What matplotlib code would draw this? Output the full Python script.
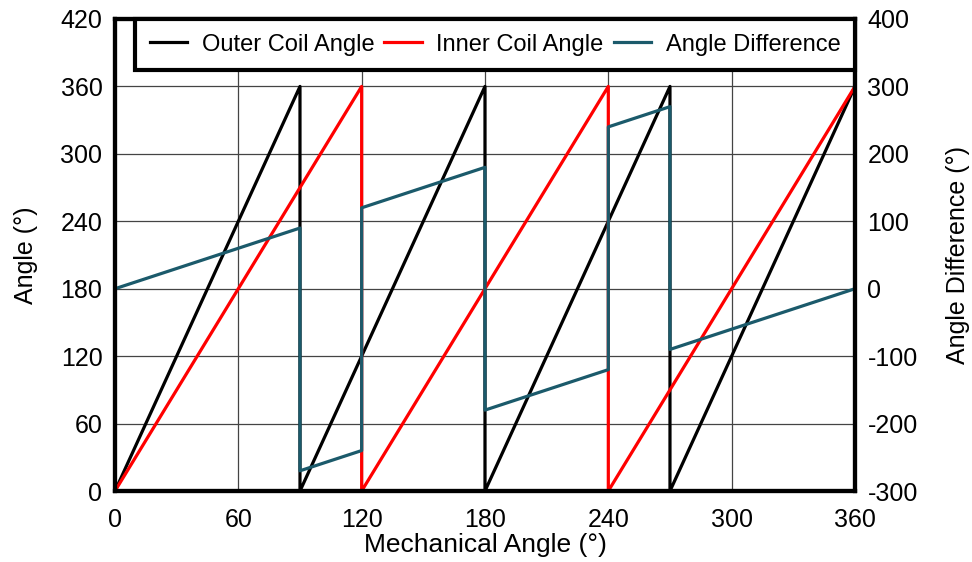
import matplotlib.pyplot as plt
from matplotlib.lines import Line2D

plt.rcParams['font.family'] = ['Liberation Sans', 'DejaVu Sans']
plt.rcParams['axes.unicode_minus'] = False

# breakpoints
outer_x = [0, 90, 90, 180, 180, 270, 270, 360]
outer_y = [0, 360, 0, 360, 0, 360, 0, 360]
inner_x = [0, 120, 120, 240, 240, 360]
inner_y = [0, 360, 0, 360, 0, 360]
diff_x = [0, 90, 90, 120, 120, 180, 180, 240, 240, 270, 270, 360]
diff_y = [0, 90, -270, -240, 120, 180, -180, -120, 240, 270, -90, 0]

x_ticks = [0, 60, 120, 180, 240, 300, 360]
left_ticks = [0, 60, 120, 180, 240, 300, 360, 420]
right_ticks = [-300, -200, -100, 0, 100, 200, 300, 400]

teal = '#1b5a6b'

fig = plt.figure(figsize=(9.72, 5.62), dpi=100)
ax = fig.add_axes([0.1183, 0.1263, 0.7613, 0.8399])
ax.plot(outer_x, outer_y, color='black', lw=2.3, label='Outer Coil Angle')
ax.plot(inner_x, inner_y, color='red', lw=2.3, label='Inner Coil Angle')
ax.set_xlim(0, 360)
ax.set_ylim(0, 420)
ax.set_xticks(x_ticks)
ax.set_yticks(left_ticks)
ax.grid(True, color='#444444', lw=0.9)
ax.set_axisbelow(True)
ax.tick_params(axis='x', length=0, labelsize=18, pad=12)
ax.tick_params(axis='y', length=0, labelsize=18, pad=9)
ax.set_xlabel('Mechanical Angle (°)', fontsize=19, labelpad=1)
ax.set_ylabel('Angle (°)', fontsize=18, labelpad=16)

ax2 = ax.twinx()
ax2.plot(diff_x, diff_y, color=teal, lw=2.3, label='Angle Difference')
ax2.set_ylim(-300, 400)
ax2.set_yticks(right_ticks)
ax2.tick_params(length=0, labelsize=18, pad=9)
ax2.set_ylabel('Angle Difference (°)', fontsize=18, labelpad=20)

for a in (ax, ax2):
    for s in a.spines.values():
        s.set_linewidth(3)
        s.set_color('black')

handles = [Line2D([], [], color='black', lw=2.3),
           Line2D([], [], color='red', lw=2.3),
           Line2D([], [], color=teal, lw=2.3)]
labels = ['Outer Coil Angle', 'Inner Coil Angle', 'Angle Difference']
leg = ax2.legend(handles, labels, loc='upper left', ncol=3, mode='expand',
                 bbox_to_anchor=(0.027, 0, 0.973, 1), borderaxespad=0,
                 fontsize=17, fancybox=False, framealpha=1, handlelength=1.6,
                 columnspacing=0.6, handletextpad=0.6, borderpad=0.62)
leg.get_frame().set_edgecolor('black')
leg.get_frame().set_linewidth(3)

fig.savefig('out.png', dpi=100)
